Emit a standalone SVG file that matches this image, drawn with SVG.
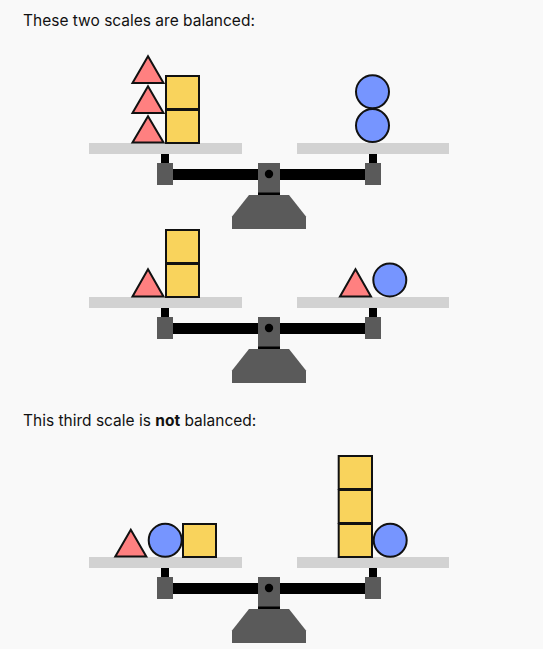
<svg xmlns="http://www.w3.org/2000/svg" width="543" height="649" viewBox="0 0 543 649">
<style>
.bg{fill:#f9f9f9}
.txt{font-family:Inter,"Liberation Sans",sans-serif;font-size:15.5px;fill:#111}
.plat{fill:#d2d2d2}
.blk{fill:#000}
.gry{fill:#5a5a5a}
.tri{fill:#ff8080;stroke:#111;stroke-width:2}
.sq{fill:#f9d35c;stroke:#111;stroke-width:2}
.cir{fill:#7695ff;stroke:#111;stroke-width:2}
</style>
<defs>
<g id="scale">
<rect class="plat" x="89" y="143" width="153" height="11"/>
<rect class="plat" x="297" y="143" width="152" height="11"/>
<rect class="blk" x="161" y="154" width="8" height="10"/>
<rect class="blk" x="369" y="154" width="8" height="10"/>
<rect class="blk" x="170" y="169" width="200" height="11"/>
<rect class="gry" x="157" y="163" width="16" height="22"/>
<rect class="gry" x="365" y="163" width="16" height="22"/>
<rect class="gry" x="258" y="163" width="22" height="30"/>
<rect class="blk" x="258" y="192.5" width="22" height="2.5"/>
<circle class="blk" cx="269" cy="174" r="4.2"/>
<polygon class="gry" points="249,195 289,195 306,216.5 306,229 232,229 232,216.5"/>
</g>
</defs>
<rect class="bg" x="0" y="0" width="543" height="649"/>
<text class="txt" x="23" y="25.5">These two scales are balanced:</text>
<text class="txt" x="23" y="425.5">This third scale is <tspan font-weight="bold">not</tspan> balanced:</text>

<g id="scale1">
<use href="#scale"/>
<g id="scale1-left">
<polygon class="tri" points="148,56.3 132.5,83 163.5,83"/>
<polygon class="tri" points="148,86.3 132.5,113 163.5,113"/>
<polygon class="tri" points="148,116.3 132.5,142.5 163.5,142.5"/>
<rect class="sq" x="166" y="76" width="33" height="33"/>
<rect class="sq" x="166" y="110" width="33" height="33"/>
</g>
<g id="scale1-right">
<circle class="cir" cx="372.5" cy="91.8" r="16.5"/>
<circle class="cir" cx="372.5" cy="125.6" r="16.5"/>
</g>
</g>

<g id="scale2">
<use href="#scale" y="154"/>
<g id="scale2-left">
<polygon class="tri" points="148,269.3 132.5,296.5 163.5,296.5"/>
<rect class="sq" x="166" y="230" width="33" height="33"/>
<rect class="sq" x="166" y="264" width="33" height="33"/>
</g>
<g id="scale2-right">
<polygon class="tri" points="355.5,269.3 340,296.5 371,296.5"/>
<circle class="cir" cx="389.8" cy="280" r="16.5"/>
</g>
</g>

<g id="scale3">
<use href="#scale" y="414"/>
<g id="scale3-left">
<polygon class="tri" points="130.8,529.7 115.3,556.5 146.3,556.5"/>
<circle class="cir" cx="165.2" cy="540.3" r="16.5"/>
<rect class="sq" x="183" y="524" width="33" height="33"/>
</g>
<g id="scale3-right">
<rect class="sq" x="338.7" y="456" width="33.3" height="33"/>
<rect class="sq" x="338.7" y="490" width="33.3" height="33"/>
<rect class="sq" x="338.7" y="524" width="33.3" height="33"/>
<circle class="cir" cx="390.2" cy="540.3" r="16.5"/>
</g>
</g>
<g id="connectors"/>
</svg>
